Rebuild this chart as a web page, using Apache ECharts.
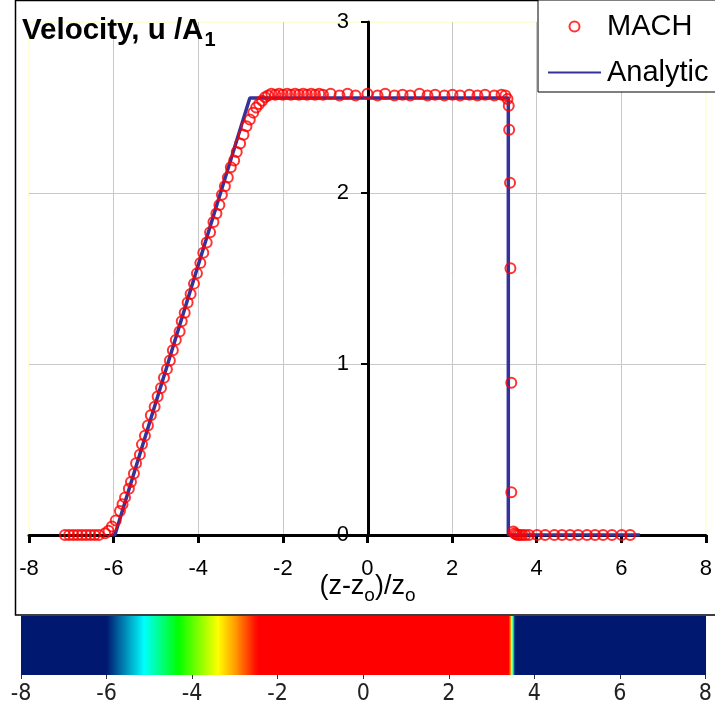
<!DOCTYPE html>
<html>
<head>
<meta charset="utf-8">
<script src="https://cdn.jsdelivr.net/npm/echarts@6/dist/echarts.min.js"></script>
<style>
  html, body { margin: 0; padding: 0; background: #fff; }
  #chart { width: 715px; height: 711px; }
</style>
</head>
<body>
<div id="chart"></div>
<script>
// Normalised position (z - z0) / z0 and velocity u / A1 of the MACH run
const machZ = [
  -7.15, -7.05, -6.95, -6.85, -6.75, -6.65, -6.55, -6.45, -6.35,
  -6.20, -6.12, -6.04, -5.95, -5.85, -5.79, -5.73,
  -5.64, -5.59, -5.52, -5.47, -5.38, -5.33, -5.26, -5.19, -5.12, -5.03,
  -4.96, -4.88, -4.81, -4.74, -4.67, -4.60, -4.53, -4.44, -4.39, -4.32,
  -4.25, -4.18, -4.10, -4.03, -3.95, -3.88, -3.80, -3.72, -3.64, -3.57,
  -3.50, -3.44, -3.37, -3.30, -3.23, -3.15, -3.09, -3.01, -2.93, -2.86,
  -2.78, -2.70, -2.63, -2.56, -2.49, -2.42, -2.35,
  -2.27, -2.18, -2.09, -2.00, -1.90, -1.81, -1.71, -1.62, -1.52, -1.43,
  -1.33, -1.24, -1.14, -1.05, -0.87, -0.66, -0.47, -0.28, 0.00, 0.24,
  0.42, 0.64, 0.83, 1.01, 1.23, 1.42, 1.60, 1.82, 2.01, 2.19, 2.41,
  2.60, 2.78, 3.00, 3.17, 3.26, 3.31,
  3.34, 3.35, 3.37, 3.38, 3.40, 3.40, 3.45, 3.48, 3.51, 3.55, 3.60,
  3.66, 3.73, 3.82, 4.01, 4.20, 4.42, 4.60, 4.79, 4.98, 5.19, 5.38,
  5.57, 5.78, 6.01, 6.21
];
const machU = [
  0, 0, 0, 0, 0, 0, 0, 0, 0,
  0.01, 0.025, 0.05, 0.085, 0.14, 0.18, 0.22,
  0.27, 0.31, 0.36, 0.42, 0.47, 0.53, 0.58, 0.64, 0.70, 0.75,
  0.81, 0.86, 0.92, 0.97, 1.02, 1.08, 1.14, 1.19, 1.25, 1.30,
  1.36, 1.41, 1.47, 1.53, 1.59, 1.65, 1.71, 1.77, 1.83, 1.88,
  1.93, 1.99, 2.04, 2.09, 2.15, 2.19, 2.24, 2.29, 2.34, 2.39,
  2.43, 2.47, 2.50, 2.52, 2.54, 2.56, 2.57,
  2.58, 2.575, 2.58, 2.575, 2.58, 2.575, 2.58, 2.575, 2.58, 2.575,
  2.58, 2.575, 2.58, 2.575, 2.58, 2.57, 2.58, 2.57, 2.58, 2.57,
  2.58, 2.57, 2.575, 2.57, 2.58, 2.57, 2.575, 2.57, 2.575, 2.57, 2.575,
  2.57, 2.575, 2.57, 2.575, 2.57, 2.55,
  2.51, 2.37, 2.06, 1.56, 0.89, 0.25, 0.02, 0.01, 0.005, 0, 0,
  0, 0, 0, 0, 0, 0, 0, 0, 0, 0, 0,
  0, 0, 0, 0
];

// Analytic solution: rarefaction ramp, plateau, shock
const analyticZ = [-6.05, -5.97, -2.78, 3.33, 3.33, 6.44];
const analyticU = [0, 0, 2.555, 2.555, 0, 0];

// Colour strip of the same field, sampled along z (level 0..1)
const stripZ = [-8, -6.0, -5.13, -4.33, -3.4, -2.94, -2.48, 3.40, 3.46, 3.50, 3.54, 8];
const stripLevel = [0, 0, 0.3, 0.5, 0.7, 0.85, 1, 1, 0.7, 0.3, 0, 0];

const xTicks = [-8, -6, -4, -2, 0, 2, 4, 6, 8];
const yTicks = [0, 1, 2, 3];

const FONT = "'Liberation Sans', Arial, sans-serif";
const NARROW = "'Liberation Sans Narrow', 'DejaVu Sans Condensed', 'Liberation Sans', sans-serif";

// geometry of the main plot
const GRID = { left: 29, right: 8, top: 22, bottom: 176 };
const PLOT_W = 715 - GRID.left - GRID.right;
const xMin = xTicks[0], xMax = xTicks[xTicks.length - 1];
// the value axis is drawn through z = 0
const yAxisShift = -PLOT_W * (0 - xMin) / (xMax - xMin);

// colour map used by the strip
const cmapStops = [
  [0, [0, 24, 112]],
  [0.3, [0, 255, 255]],
  [0.5, [0, 255, 0]],
  [0.7, [255, 255, 0]],
  [0.85, [255, 140, 0]],
  [1, [255, 0, 0]]
];
function cmap(v) {
  for (let i = 1; i < cmapStops.length; i++) {
    const a = cmapStops[i - 1], b = cmapStops[i];
    if (v <= b[0]) {
      const t = (v - a[0]) / (b[0] - a[0] || 1);
      const c = a[1].map((x, k) => Math.round(x + (b[1][k] - x) * t));
      return 'rgb(' + c.join(',') + ')';
    }
  }
  const c = cmapStops[cmapStops.length - 1][1];
  return 'rgb(' + c.join(',') + ')';
}

const machData = machZ.map((z, i) => [z, machU[i]]);
const analyticData = analyticZ.map((z, i) => [z, analyticU[i]]);
const stripData = [];
for (let i = 0; i < stripZ.length - 1; i++) {
  stripData.push([stripZ[i], stripZ[i + 1], stripLevel[i], stripLevel[i + 1]]);
}

const chart = echarts.init(document.getElementById('chart'), null, { renderer: 'canvas' });

chart.setOption({
  animation: false,
  backgroundColor: '#fff',
  title: {
    left: 22,
    top: 16,
    padding: 0,
    text: '{m|Velocity, u /A}{s|1}',
    textStyle: {
      rich: {
        m: { fontSize: 29.5, fontWeight: 'bold', fontFamily: FONT, color: '#000', lineHeight: 31, verticalAlign: 'top' },
        s: { fontSize: 20, fontFamily: FONT, color: '#000', lineHeight: 20, padding: [14, 0, 0, 1], verticalAlign: 'top' }
      }
    }
  },
  legend: {
    orient: 'vertical',
    left: 538,
    top: 0,
    padding: [12, 24, 5, 9],
    itemWidth: 53,
    itemHeight: 10,
    itemGap: 17,
    backgroundColor: '#fff',
    borderColor: '#000',
    borderWidth: 1,
    borderRadius: 0,
    textStyle: { fontSize: 29, fontFamily: FONT, color: '#000', padding: [0, 0, 0, 1] },
    data: [
      { name: 'MACH' },
      { name: 'Analytic', itemStyle: { opacity: 0 } }
    ]
  },
  graphic: [
    {
      type: 'rect',
      z: -1,
      shape: { x: 15.5, y: 0.5, width: 720, height: 614.5 },
      style: { fill: 'none', stroke: '#000', lineWidth: 1.5 },
      silent: true
    }
  ],
  grid: [
    { left: GRID.left, right: GRID.right, top: GRID.top, bottom: GRID.bottom, show: true, borderColor: '#ffffb0', borderWidth: 1 },
    { left: 21, right: 1, top: 616, bottom: 36 }
  ],
  xAxis: [
    {
      type: 'value', gridIndex: 0, min: xMin, max: xMax, interval: 2,
      axisLine: { onZero: true, lineStyle: { color: '#000', width: 3 } },
      axisTick: { show: true, length: 8, lineStyle: { color: '#000', width: 3 } },
      axisLabel: { fontSize: 22, fontFamily: FONT, color: '#000', margin: 23 },
      splitLine: { show: true, showMinLine: false, showMaxLine: false, lineStyle: { color: '#c8c8c8', width: 1 } },
      name: '{a|(z-z}{s|o}{a|)/z}{s|o}',
      nameLocation: 'middle',
      nameGap: 38,
      nameMoveOverlap: false,
      nameTextStyle: {
        rich: {
          a: { fontSize: 27, fontFamily: FONT, color: '#000', lineHeight: 28, verticalAlign: 'top' },
          s: { fontSize: 19, fontFamily: FONT, color: '#000', lineHeight: 19, padding: [13, 0, 0, 0], verticalAlign: 'top' }
        }
      }
    },
    {
      type: 'value', gridIndex: 1, min: -8, max: 8, interval: 2,
      axisLine: { show: false },
      axisTick: { show: true, length: 4, lineStyle: { color: '#333', width: 1 } },
      axisLabel: { fontSize: 23, fontFamily: NARROW, color: '#222', margin: 8 },
      splitLine: { show: false }
    }
  ],
  yAxis: [
    {
      type: 'value', gridIndex: 0, min: yTicks[0], max: yTicks[yTicks.length - 1], interval: 1,
      position: 'left',
      offset: yAxisShift,
      axisLine: { onZero: false, lineStyle: { color: '#000', width: 3 } },
      axisTick: { show: true, length: 7, lineStyle: { color: '#000', width: 2 } },
      axisLabel: { fontSize: 22, fontFamily: FONT, color: '#000', margin: 19 },
      splitLine: { show: true, showMinLine: false, showMaxLine: false, lineStyle: { color: '#c8c8c8', width: 1 } }
    },
    { type: 'value', gridIndex: 1, min: 0, max: 1, show: false }
  ],
  series: [
    {
      name: 'Analytic',
      type: 'line',
      xAxisIndex: 0, yAxisIndex: 0,
      data: analyticData,
      symbol: 'none',
      lineStyle: { color: '#333399', width: 3.5 },
      itemStyle: { color: '#333399' },
      z: 2
    },
    {
      name: 'MACH',
      type: 'scatter',
      xAxisIndex: 0, yAxisIndex: 0,
      data: machData,
      symbol: 'circle',
      symbolSize: 10,
      itemStyle: { color: 'rgba(255,255,255,0)', borderColor: '#ff0000', borderWidth: 2 },
      z: 3
    },
    {
      type: 'custom',
      xAxisIndex: 1, yAxisIndex: 1,
      data: stripData,
      silent: true,
      encode: { x: [0, 1], y: [2, 3] },
      renderItem: function (params, api) {
        const z0 = api.value(0), z1 = api.value(1);
        const l0 = api.value(2), l1 = api.value(3);
        const pTop = api.coord([z0, 1]);
        const pBot = api.coord([z1, 0]);
        return {
          type: 'rect',
          shape: { x: pTop[0], y: pTop[1], width: pBot[0] - pTop[0] + 0.6, height: pBot[1] - pTop[1] },
          style: {
            fill: new echarts.graphic.LinearGradient(0, 0, 1, 0, [
              { offset: 0, color: cmap(l0) },
              { offset: 1, color: cmap(l1) }
            ])
          }
        };
      }
    }
  ]
});
</script>
</body>
</html>
